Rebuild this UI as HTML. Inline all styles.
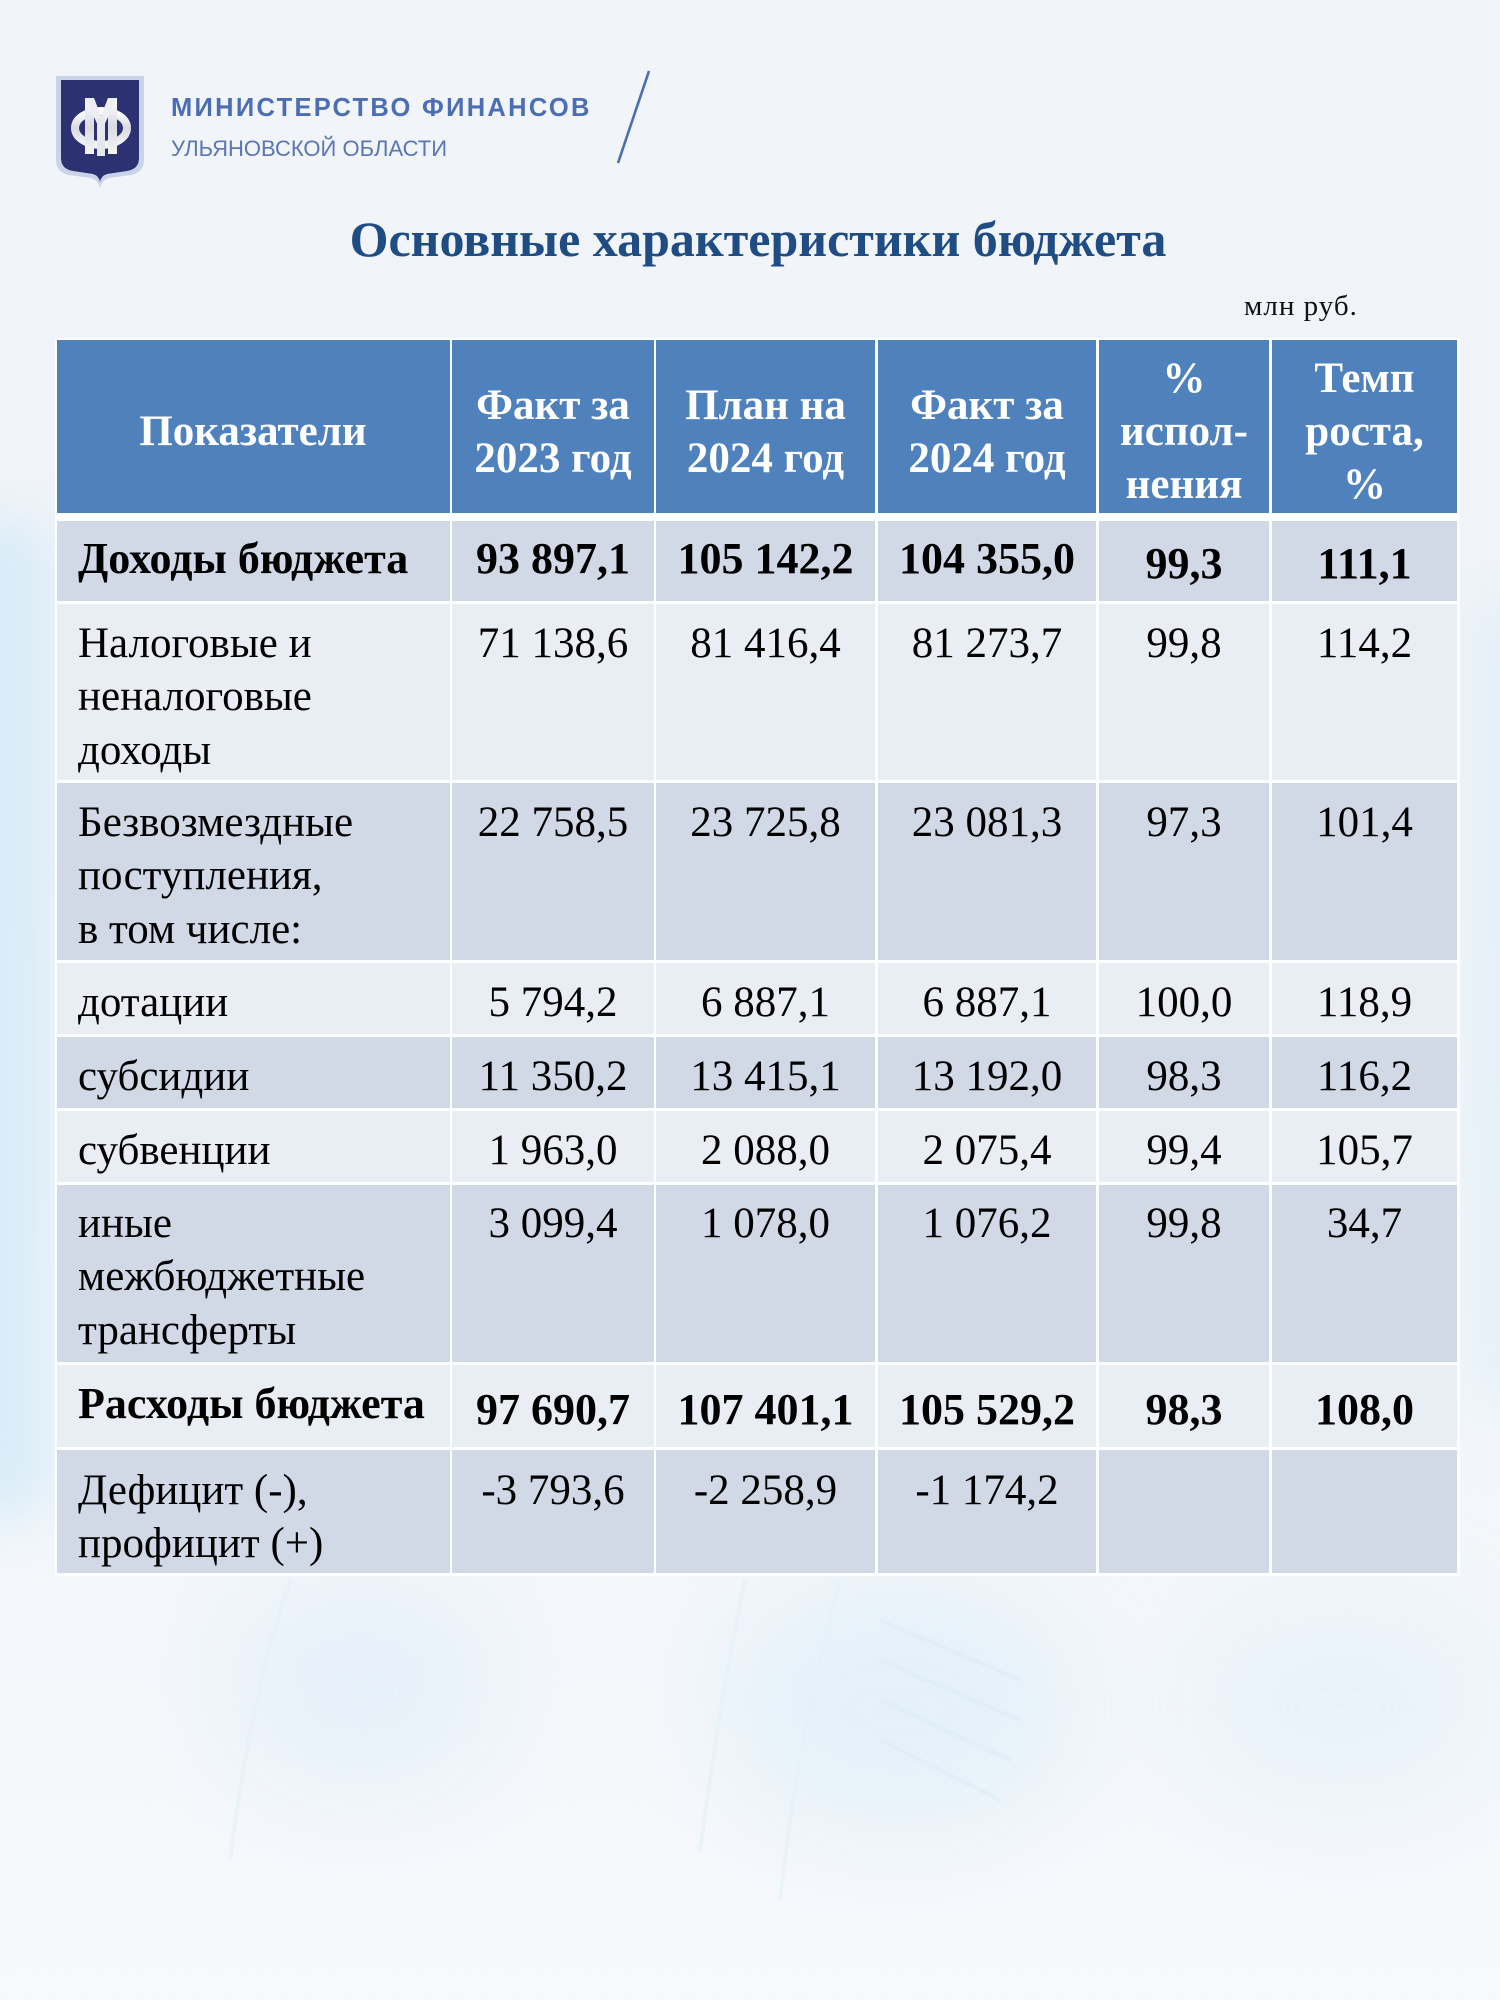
<!DOCTYPE html>
<html lang="ru">
<head>
<meta charset="utf-8">
<style>
html,body{margin:0;padding:0;}
body{width:1500px;height:2000px;position:relative;overflow:hidden;
  background:linear-gradient(180deg,#f1f4f8 0px,#f0f4f9 700px,#f2f6fa 1400px,#f7f9fc 2000px);
  font-family:"Liberation Serif","DejaVu Serif",serif;}
.abs{position:absolute;}
.bgblob{position:absolute;border-radius:50%;filter:blur(50px);}
.cell{position:absolute;box-sizing:border-box;}
.h{background:#4f81bd;}
.d{background:#d1d9e7;}
.l{background:#e9edf4;}
.t{position:absolute;font-size:43px;line-height:53px;color:#000;white-space:nowrap;}
.b{font-weight:bold;font-size:44px;}
.c{text-align:center;}
.ht{position:absolute;font-size:43px;line-height:53px;color:#fff;font-weight:bold;white-space:nowrap;text-align:center;}
</style>
</head>
<body>

<!-- background decorations -->
<div class="bgblob" style="left:-60px;top:520px;width:110px;height:1000px;border-radius:40px;background:rgba(200,230,246,0.6);filter:blur(25px);"></div>
<div class="bgblob" style="left:1470px;top:600px;width:70px;height:800px;border-radius:30px;background:rgba(210,232,246,0.4);filter:blur(25px);"></div>
<div class="bgblob" style="left:220px;top:1580px;width:280px;height:220px;background:rgba(205,230,245,0.35);"></div>
<div class="bgblob" style="left:720px;top:1580px;width:360px;height:260px;background:rgba(200,228,245,0.35);"></div>
<div class="bgblob" style="left:1180px;top:1600px;width:320px;height:220px;background:rgba(210,232,246,0.3);"></div>
<svg class="abs" style="left:0;top:0" width="1500" height="2000">
  <g stroke="#e4f0f8" stroke-width="4" opacity="0.6" fill="none">
    <path d="M290 1580 Q250 1700 230 1860"/>
    <path d="M840 1580 Q800 1720 780 1900"/>
    <path d="M745 1580 Q720 1700 700 1850"/>
  </g>
  <g stroke="#dcedf7" stroke-width="5" opacity="0.5">
    <line x1="880" y1="1620" x2="1020" y2="1680"/>
    <line x1="880" y1="1660" x2="1020" y2="1720"/>
    <line x1="880" y1="1700" x2="1010" y2="1760"/>
    <line x1="880" y1="1740" x2="1000" y2="1800"/>
  </g>
</svg>

<!-- logo -->
<svg class="abs" style="left:0;top:0" width="700" height="200">
  <defs>
    <linearGradient id="silver" x1="0" y1="0" x2="0" y2="1">
      <stop offset="0" stop-color="#ffffff"/>
      <stop offset="0.5" stop-color="#d9dbe2"/>
      <stop offset="1" stop-color="#f4f4f6"/>
    </linearGradient>
  </defs>
  <path d="M56 76 L144 76 L144 160 Q144 172 131 175 L109 178 Q102 180 100 188 Q98 180 91 178 L69 175 Q56 172 56 160 Z" fill="#c9d4e8"/>
  <path d="M61 80 L139 80 L139 158 Q139 169 127 171 L107 174 Q101 176 100 182 Q99 176 93 174 L73 171 Q61 169 61 158 Z" fill="#2c3172"/>
  <ellipse cx="101" cy="128" rx="26" ry="17" fill="none" stroke="url(#silver)" stroke-width="8"/>
  <rect x="85" y="98" width="9" height="56" fill="url(#silver)"/>
  <rect x="108" y="98" width="9" height="56" fill="url(#silver)"/>
  <polygon points="85,98 94,98 101,116 108,98 117,98 101,132" fill="#eeeef2"/>
  <rect x="97" y="118" width="8" height="38" fill="#e6e7ec"/>
  <line x1="649" y1="71" x2="618" y2="163" stroke="#4a6db3" stroke-width="2.6"/>
</svg>
<div class="abs" style="left:171px;top:94px;font-family:'Liberation Sans',sans-serif;font-weight:bold;font-size:25.5px;line-height:28px;letter-spacing:2.3px;color:#4b6db3;white-space:nowrap;">МИНИСТЕРСТВО ФИНАНСОВ</div>
<div class="abs" style="left:171px;top:136px;font-family:'Liberation Sans',sans-serif;font-size:22px;line-height:26px;color:#5a76b3;white-space:nowrap;">УЛЬЯНОВСКОЙ ОБЛАСТИ</div>

<!-- title -->
<div class="abs" style="left:0;width:1516px;top:210px;text-align:center;font-size:50px;line-height:58px;font-weight:bold;color:#1f4c82;white-space:nowrap;">Основные характеристики бюджета</div>
<div class="abs" style="left:1244px;top:290px;font-size:29px;line-height:32px;letter-spacing:1px;color:#111;white-space:nowrap;">млн руб.</div>

<!-- table background (white grid) -->
<div class="abs" style="left:55px;top:338px;width:1405px;height:1238px;background:#fdfefe;"></div>

<!-- header cells -->
<div class="cell h" style="left:57px;top:340px;width:392.5px;height:173px;"></div>
<div class="cell h" style="left:452px;top:340px;width:201.5px;height:173px;"></div>
<div class="cell h" style="left:656px;top:340px;width:219px;height:173px;"></div>
<div class="cell h" style="left:878px;top:340px;width:218px;height:173px;"></div>
<div class="cell h" style="left:1099px;top:340px;width:170px;height:173px;"></div>
<div class="cell h" style="left:1272px;top:340px;width:185px;height:173px;"></div>

<!-- r1 -->
<div class="cell d" style="left:57px;top:521px;width:392.5px;height:80px;"></div>
<div class="cell d" style="left:452px;top:521px;width:201.5px;height:80px;"></div>
<div class="cell d" style="left:656px;top:521px;width:219px;height:80px;"></div>
<div class="cell d" style="left:878px;top:521px;width:218px;height:80px;"></div>
<div class="cell d" style="left:1099px;top:521px;width:170px;height:80px;"></div>
<div class="cell d" style="left:1272px;top:521px;width:185px;height:80px;"></div>
<!-- r2 -->
<div class="cell l" style="left:57px;top:604px;width:392.5px;height:176px;"></div>
<div class="cell l" style="left:452px;top:604px;width:201.5px;height:176px;"></div>
<div class="cell l" style="left:656px;top:604px;width:219px;height:176px;"></div>
<div class="cell l" style="left:878px;top:604px;width:218px;height:176px;"></div>
<div class="cell l" style="left:1099px;top:604px;width:170px;height:176px;"></div>
<div class="cell l" style="left:1272px;top:604px;width:185px;height:176px;"></div>
<!-- r3 -->
<div class="cell d" style="left:57px;top:783px;width:392.5px;height:177px;"></div>
<div class="cell d" style="left:452px;top:783px;width:201.5px;height:177px;"></div>
<div class="cell d" style="left:656px;top:783px;width:219px;height:177px;"></div>
<div class="cell d" style="left:878px;top:783px;width:218px;height:177px;"></div>
<div class="cell d" style="left:1099px;top:783px;width:170px;height:177px;"></div>
<div class="cell d" style="left:1272px;top:783px;width:185px;height:177px;"></div>
<!-- r4 -->
<div class="cell l" style="left:57px;top:963px;width:392.5px;height:71px;"></div>
<div class="cell l" style="left:452px;top:963px;width:201.5px;height:71px;"></div>
<div class="cell l" style="left:656px;top:963px;width:219px;height:71px;"></div>
<div class="cell l" style="left:878px;top:963px;width:218px;height:71px;"></div>
<div class="cell l" style="left:1099px;top:963px;width:170px;height:71px;"></div>
<div class="cell l" style="left:1272px;top:963px;width:185px;height:71px;"></div>
<!-- r5 -->
<div class="cell d" style="left:57px;top:1037px;width:392.5px;height:71px;"></div>
<div class="cell d" style="left:452px;top:1037px;width:201.5px;height:71px;"></div>
<div class="cell d" style="left:656px;top:1037px;width:219px;height:71px;"></div>
<div class="cell d" style="left:878px;top:1037px;width:218px;height:71px;"></div>
<div class="cell d" style="left:1099px;top:1037px;width:170px;height:71px;"></div>
<div class="cell d" style="left:1272px;top:1037px;width:185px;height:71px;"></div>
<!-- r6 -->
<div class="cell l" style="left:57px;top:1111px;width:392.5px;height:71px;"></div>
<div class="cell l" style="left:452px;top:1111px;width:201.5px;height:71px;"></div>
<div class="cell l" style="left:656px;top:1111px;width:219px;height:71px;"></div>
<div class="cell l" style="left:878px;top:1111px;width:218px;height:71px;"></div>
<div class="cell l" style="left:1099px;top:1111px;width:170px;height:71px;"></div>
<div class="cell l" style="left:1272px;top:1111px;width:185px;height:71px;"></div>
<!-- r7 -->
<div class="cell d" style="left:57px;top:1185px;width:392.5px;height:177px;"></div>
<div class="cell d" style="left:452px;top:1185px;width:201.5px;height:177px;"></div>
<div class="cell d" style="left:656px;top:1185px;width:219px;height:177px;"></div>
<div class="cell d" style="left:878px;top:1185px;width:218px;height:177px;"></div>
<div class="cell d" style="left:1099px;top:1185px;width:170px;height:177px;"></div>
<div class="cell d" style="left:1272px;top:1185px;width:185px;height:177px;"></div>
<!-- r8 -->
<div class="cell l" style="left:57px;top:1365px;width:392.5px;height:82px;"></div>
<div class="cell l" style="left:452px;top:1365px;width:201.5px;height:82px;"></div>
<div class="cell l" style="left:656px;top:1365px;width:219px;height:82px;"></div>
<div class="cell l" style="left:878px;top:1365px;width:218px;height:82px;"></div>
<div class="cell l" style="left:1099px;top:1365px;width:170px;height:82px;"></div>
<div class="cell l" style="left:1272px;top:1365px;width:185px;height:82px;"></div>
<!-- r9 -->
<div class="cell d" style="left:57px;top:1450px;width:392.5px;height:123px;"></div>
<div class="cell d" style="left:452px;top:1450px;width:201.5px;height:123px;"></div>
<div class="cell d" style="left:656px;top:1450px;width:219px;height:123px;"></div>
<div class="cell d" style="left:878px;top:1450px;width:218px;height:123px;"></div>
<div class="cell d" style="left:1099px;top:1450px;width:170px;height:123px;"></div>
<div class="cell d" style="left:1272px;top:1450px;width:185px;height:123px;"></div>

<!-- header text -->
<div class="ht" style="left:57px;width:392px;top:405px;">Показатели</div>
<div class="ht" style="left:452px;width:202px;top:379px;">Факт за<br>2023 год</div>
<div class="ht" style="left:656px;width:219px;top:379px;">План на<br>2024 год</div>
<div class="ht" style="left:878px;width:218px;top:379px;">Факт за<br>2024 год</div>
<div class="ht" style="left:1099px;width:170px;top:352px;">%<br>испол-<br>нения</div>
<div class="ht" style="left:1272px;width:185px;top:352px;">Темп<br>роста,<br>%</div>

<!-- r1 text -->
<div class="t b" style="left:78px;top:532px;">Доходы бюджета</div>
<div class="t b c" style="left:452px;width:202px;top:532px;">93 897,1</div>
<div class="t b c" style="left:656px;width:219px;top:532px;">105 142,2</div>
<div class="t b c" style="left:878px;width:218px;top:532px;">104 355,0</div>
<div class="t b c" style="left:1099px;width:170px;top:537px;">99,3</div>
<div class="t b c" style="left:1272px;width:185px;top:537px;">111,1</div>

<!-- r2 text -->
<div class="t" style="left:78px;top:617px;line-height:53.3px;">Налоговые и<br>неналоговые<br>доходы</div>
<div class="t c" style="left:452px;width:202px;top:617px;">71 138,6</div>
<div class="t c" style="left:656px;width:219px;top:617px;">81 416,4</div>
<div class="t c" style="left:878px;width:218px;top:617px;">81 273,7</div>
<div class="t c" style="left:1099px;width:170px;top:617px;">99,8</div>
<div class="t c" style="left:1272px;width:185px;top:617px;">114,2</div>

<!-- r3 text -->
<div class="t" style="left:78px;top:796px;line-height:53.3px;">Безвозмездные<br>поступления,<br>в том числе:</div>
<div class="t c" style="left:452px;width:202px;top:796px;">22 758,5</div>
<div class="t c" style="left:656px;width:219px;top:796px;">23 725,8</div>
<div class="t c" style="left:878px;width:218px;top:796px;">23 081,3</div>
<div class="t c" style="left:1099px;width:170px;top:796px;">97,3</div>
<div class="t c" style="left:1272px;width:185px;top:796px;">101,4</div>

<!-- r4 text -->
<div class="t" style="left:78px;top:976px;">дотации</div>
<div class="t c" style="left:452px;width:202px;top:976px;">5 794,2</div>
<div class="t c" style="left:656px;width:219px;top:976px;">6 887,1</div>
<div class="t c" style="left:878px;width:218px;top:976px;">6 887,1</div>
<div class="t c" style="left:1099px;width:170px;top:976px;">100,0</div>
<div class="t c" style="left:1272px;width:185px;top:976px;">118,9</div>

<!-- r5 text -->
<div class="t" style="left:78px;top:1050px;">субсидии</div>
<div class="t c" style="left:452px;width:202px;top:1050px;">11 350,2</div>
<div class="t c" style="left:656px;width:219px;top:1050px;">13 415,1</div>
<div class="t c" style="left:878px;width:218px;top:1050px;">13 192,0</div>
<div class="t c" style="left:1099px;width:170px;top:1050px;">98,3</div>
<div class="t c" style="left:1272px;width:185px;top:1050px;">116,2</div>

<!-- r6 text -->
<div class="t" style="left:78px;top:1124px;">субвенции</div>
<div class="t c" style="left:452px;width:202px;top:1124px;">1 963,0</div>
<div class="t c" style="left:656px;width:219px;top:1124px;">2 088,0</div>
<div class="t c" style="left:878px;width:218px;top:1124px;">2 075,4</div>
<div class="t c" style="left:1099px;width:170px;top:1124px;">99,4</div>
<div class="t c" style="left:1272px;width:185px;top:1124px;">105,7</div>

<!-- r7 text -->
<div class="t" style="left:78px;top:1197px;line-height:53.3px;">иные<br>межбюджетные<br>трансферты</div>
<div class="t c" style="left:452px;width:202px;top:1197px;">3 099,4</div>
<div class="t c" style="left:656px;width:219px;top:1197px;">1 078,0</div>
<div class="t c" style="left:878px;width:218px;top:1197px;">1 076,2</div>
<div class="t c" style="left:1099px;width:170px;top:1197px;">99,8</div>
<div class="t c" style="left:1272px;width:185px;top:1197px;">34,7</div>

<!-- r8 text -->
<div class="t b" style="left:78px;top:1377px;">Расходы бюджета</div>
<div class="t b c" style="left:452px;width:202px;top:1383px;">97 690,7</div>
<div class="t b c" style="left:656px;width:219px;top:1383px;">107 401,1</div>
<div class="t b c" style="left:878px;width:218px;top:1383px;">105 529,2</div>
<div class="t b c" style="left:1099px;width:170px;top:1383px;">98,3</div>
<div class="t b c" style="left:1272px;width:185px;top:1383px;">108,0</div>

<!-- r9 text -->
<div class="t" style="left:78px;top:1464px;line-height:53.3px;">Дефицит (-),<br>профицит (+)</div>
<div class="t c" style="left:452px;width:202px;top:1464px;">-3 793,6</div>
<div class="t c" style="left:656px;width:219px;top:1464px;">-2 258,9</div>
<div class="t c" style="left:878px;width:218px;top:1464px;">-1 174,2</div>

</body>
</html>
